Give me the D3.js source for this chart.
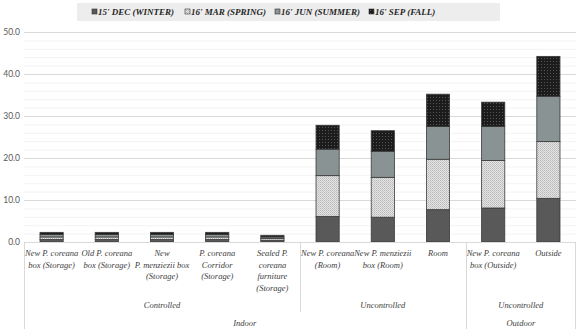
<!DOCTYPE html>
<html>
<head>
<meta charset="utf-8">
<script src="https://cdn.jsdelivr.net/npm/d3@7"></script>
<style>
  body { margin: 0; background: #fff; }
  svg { display: block; }
</style>
</head>
<body>
<div id="chart"></div>
<script>
// categories (label lines) and stacked values
const categories = [
  ["New P. coreana", "box (Storage)"],
  ["Old P. coreana", "box (Storage)"],
  ["New", "P. menziezii box", "(Storage)"],
  ["P. coreana", "Corridor", "(Storage)"],
  ["Sealed P.", "coreana", "furniture", "(Storage)"],
  ["New P. coreana", "(Room)"],
  ["New P. menziezii", "box (Room)"],
  ["Room"],
  ["New P. coreana", "box (Outside)"],
  ["Outside"]
];
const seriesNames = ["15' DEC (WINTER)", "16' MAR (SPRING)", "16' JUN (SUMMER)", "16' SEP (FALL)"];
const winter = [0.6, 0.6, 0.6, 0.6, 0.4, 6.1, 5.9, 7.7, 8.1, 10.4];
const spring = [0.6, 0.6, 0.6, 0.6, 0.4, 9.7, 9.5, 12.0, 11.3, 13.5];
const summer = [0.6, 0.6, 0.6, 0.6, 0.4, 6.3, 6.2, 7.8, 8.1, 10.8];
const fall   = [0.5, 0.5, 0.5, 0.5, 0.4, 5.7, 4.9, 7.7, 5.8, 9.5];
const level2 = [
  { name: "Controlled", from: 0, to: 4 },
  { name: "Uncontrolled", from: 5, to: 7 },
  { name: "Uncontrolled", from: 8, to: 9 }
];
const level3 = [
  { name: "Indoor", from: 0, to: 7 },
  { name: "Outdoor", from: 8, to: 9 }
];
const yTicks = [0, 10, 20, 30, 40, 50];

const width = 581, height = 329;
const svg = d3.select('#chart').append('svg')
  .attr('width', width).attr('height', height);

// PATTERNS
const defs = svg.append('defs');
const pSpring = defs.append('pattern').attr('id', 'pat-spring')
  .attr('width', 2).attr('height', 2).attr('patternUnits', 'userSpaceOnUse');
pSpring.append('rect').attr('width', 2).attr('height', 2).attr('fill', '#e4e4e4');
pSpring.append('rect').attr('width', 1).attr('height', 1).attr('fill', '#b8b8b8');
pSpring.append('rect').attr('x', 1).attr('y', 1).attr('width', 1).attr('height', 1).attr('fill', '#c8c8c8');

const pFall = defs.append('pattern').attr('id', 'pat-fall')
  .attr('width', 3).attr('height', 3).attr('patternUnits', 'userSpaceOnUse');
pFall.append('rect').attr('width', 3).attr('height', 3).attr('fill', '#1c1c1c');
pFall.append('rect').attr('x', 1).attr('y', 1).attr('width', 1).attr('height', 1).attr('fill', '#555');

const fills = ['#595959', 'url(#pat-spring)', '#8a9393', 'url(#pat-fall)'];
const swatch = ['#595959', '#e0e0e0', '#8a9393', '#1c1c1c'];

// SCALES
const x = d3.scaleBand()
  .domain(d3.range(categories.length))
  .range([24, 576])
  .paddingInner(0.58)
  .paddingOuter(0.29);

const y = d3.scaleLinear().domain([0, 50]).range([242, 32]);

// GRID
svg.append('g').selectAll('line')
  .data(d3.range(0, 50, 2).filter(v => v % 10 !== 0))
  .join('line')
  .attr('x1', 24).attr('x2', 576)
  .attr('y1', d => y(d) + 0.5).attr('y2', d => y(d) + 0.5)
  .attr('stroke', '#f3f3f3');

svg.append('g').selectAll('line')
  .data(yTicks.slice(1))
  .join('line')
  .attr('x1', 24).attr('x2', 576)
  .attr('y1', d => y(d) + 0.5).attr('y2', d => y(d) + 0.5)
  .attr('stroke', '#d9d9d9');

// Y AXIS labels
svg.append('g').selectAll('text')
  .data(yTicks)
  .join('text')
  .attr('x', 20).attr('y', d => y(d) + 3)
  .attr('text-anchor', 'end')
  .attr('font-family', 'Lato, "DejaVu Sans", sans-serif')
  .attr('font-size', '8.5px')
  .attr('fill', '#595959')
  .text(d => d3.format('.1f')(d));

// STACKS
const rows = categories.map((c, i) => ({ i, s0: winter[i], s1: spring[i], s2: summer[i], s3: fall[i] }));
const stack = d3.stack().keys(['s0', 's1', 's2', 's3'])(rows);

svg.append('g').selectAll('g')
  .data(stack)
  .join('g')
  .attr('fill', (d, k) => fills[k])
  .selectAll('rect')
  .data(d => d)
  .join('rect')
  .attr('x', d => x(d.data.i))
  .attr('width', x.bandwidth())
  .attr('y', d => y(d[1]))
  .attr('height', d => y(d[0]) - y(d[1]))
  .attr('stroke', '#3a3a3a')
  .attr('stroke-width', 0.8);

// CATEGORY AXIS
const axis = svg.append('g').attr('stroke', '#d9d9d9').attr('stroke-width', 1);
axis.append('line').attr('x1', 24).attr('x2', 576).attr('y1', 242.5).attr('y2', 242.5);
// vertical separators
const edge = i => x(i) - x.step() * x.paddingInner() / 2;
axis.append('line').attr('x1', 24.5).attr('x2', 24.5).attr('y1', 242).attr('y2', 329);
axis.append('line').attr('x1', 575.5).attr('x2', 575.5).attr('y1', 242).attr('y2', 329);
axis.append('line').attr('x1', Math.round(edge(5)) + 0.5).attr('x2', Math.round(edge(5)) + 0.5).attr('y1', 242).attr('y2', 312);
axis.append('line').attr('x1', Math.round(edge(8)) + 0.5).attr('x2', Math.round(edge(8)) + 0.5).attr('y1', 242).attr('y2', 329);

const labelFont = '"Liberation Serif", "DejaVu Serif", serif';
const catG = svg.append('g')
  .attr('font-family', labelFont)
  .attr('font-style', 'italic')
  .attr('font-size', '8.5px')
  .attr('fill', '#404040')
  .attr('text-anchor', 'middle');

categories.forEach((lines, i) => {
  const t = catG.append('text').attr('x', x(i) + x.bandwidth() / 2).attr('y', 256);
  lines.forEach((l, j) => t.append('tspan')
    .attr('x', x(i) + x.bandwidth() / 2)
    .attr('dy', j === 0 ? 0 : 11.5)
    .text(l));
});

const center = g => (x(g.from) + x(g.to) + x.bandwidth()) / 2;
catG.selectAll('.l2').data(level2).join('text')
  .attr('class', 'l2')
  .attr('x', center).attr('y', 308)
  .text(d => d.name);
catG.selectAll('.l3').data(level3).join('text')
  .attr('class', 'l3')
  .attr('x', center).attr('y', 326)
  .text(d => d.name);

// LEGEND
const legend = svg.append('g');
legend.append('rect')
  .attr('x', 77).attr('y', 3).attr('width', 423).attr('height', 18)
  .attr('fill', '#ededed');
const legX = [92, 185, 275, 369];
seriesNames.forEach((name, k) => {
  legend.append('rect')
    .attr('x', legX[k]).attr('y', 9).attr('width', 5).attr('height', 5)
    .attr('fill', fills[k]).attr('stroke', '#333').attr('stroke-width', 0.6);
  legend.append('text')
    .attr('x', legX[k] + 6).attr('y', 15)
    .attr('font-family', labelFont)
    .attr('font-style', 'italic')
    .attr('font-weight', 'bold')
    .attr('font-size', '9px')
    .attr('fill', '#262626')
    .text(name);
});
</script>
</body>
</html>
